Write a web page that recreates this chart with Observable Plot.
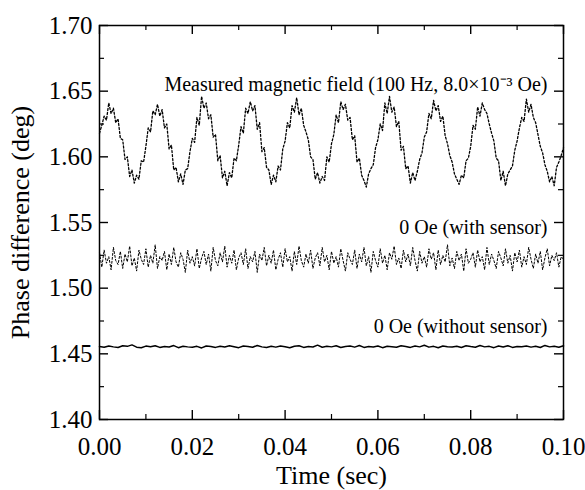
<!DOCTYPE html>
<html>
<head>
<meta charset="utf-8">
<script src="https://cdn.jsdelivr.net/npm/d3@7"></script>
<script src="https://cdn.jsdelivr.net/npm/@observablehq/plot@0.6"></script>
<style>
  html, body { margin: 0; padding: 0; background: white; }
</style>
</head>
<body>
<div id="chart"></div>
<script>
// ---- data ----
const xMajorTicks = [0.00, 0.02, 0.04, 0.06, 0.08, 0.10];
const xMinorTicks = [0.01, 0.03, 0.05, 0.07, 0.09];
const yMajorTicks = [1.40, 1.45, 1.50, 1.55, 1.60, 1.65, 1.70];
const yMinorTicks = [1.425, 1.475, 1.525, 1.575, 1.625, 1.675];

// sample spacing (sec) of each trace
const step1 = 0.0005;
const step2 = 0.0005;
const step3 = 0.001;

// Measured magnetic field (100 Hz, 8.0e-3 Oe)
const measured = [
  1.618,1.624,1.631,1.628,1.641,1.633,1.637,1.626,1.629,1.614,1.613,1.598,1.600,1.585,1.590,1.580,1.586,1.583,1.597,1.596,
  1.608,1.622,1.619,1.635,1.632,1.640,1.631,1.636,1.622,1.625,1.606,1.609,1.590,1.592,1.581,1.587,1.579,1.590,1.591,1.604,
  1.614,1.611,1.630,1.624,1.646,1.637,1.641,1.629,1.632,1.615,1.617,1.597,1.601,1.584,1.589,1.578,1.588,1.584,1.599,1.597,
  1.609,1.623,1.618,1.637,1.633,1.642,1.635,1.639,1.621,1.626,1.604,1.607,1.592,1.590,1.579,1.586,1.581,1.593,1.590,1.606,
  1.612,1.626,1.622,1.639,1.634,1.645,1.632,1.637,1.624,1.619,1.613,1.600,1.598,1.583,1.588,1.580,1.585,1.582,1.600,1.596,
  1.610,1.617,1.632,1.626,1.642,1.636,1.640,1.628,1.630,1.613,1.616,1.596,1.599,1.586,1.582,1.577,1.587,1.591,1.594,1.607,
  1.613,1.625,1.620,1.641,1.633,1.646,1.634,1.638,1.623,1.627,1.605,1.608,1.591,1.593,1.580,1.588,1.582,1.589,1.598,1.603,
  1.615,1.619,1.633,1.629,1.643,1.635,1.639,1.627,1.631,1.616,1.610,1.601,1.596,1.587,1.583,1.579,1.586,1.584,1.597,1.599,
  1.608,1.624,1.621,1.638,1.631,1.641,1.636,1.633,1.625,1.618,1.612,1.599,1.597,1.582,1.589,1.578,1.587,1.590,1.593,1.605,
  1.612,1.622,1.630,1.627,1.644,1.634,1.640,1.630,1.626,1.617,1.608,1.603,1.594,1.589,1.581,1.585,1.578,1.592,1.596,1.601,
  1.607
];

// 0 Oe (with sensor)
const withSensor = [
  1.527,1.516,1.529,1.519,1.524,1.514,1.531,1.521,1.518,1.528,1.515,1.526,1.520,1.532,1.517,1.523,1.513,1.529,1.522,1.518,
  1.530,1.516,1.525,1.519,1.533,1.515,1.524,1.521,1.528,1.514,1.526,1.518,1.531,1.520,1.516,1.527,1.522,1.512,1.529,1.519,
  1.524,1.517,1.530,1.515,1.523,1.528,1.518,1.526,1.513,1.531,1.521,1.517,1.527,1.520,1.532,1.516,1.525,1.519,1.529,1.514,
  1.523,1.527,1.518,1.530,1.515,1.524,1.520,1.528,1.512,1.526,1.521,1.531,1.517,1.525,1.519,1.529,1.514,1.522,1.527,1.516,
  1.530,1.520,1.524,1.513,1.528,1.518,1.532,1.521,1.516,1.526,1.519,1.529,1.515,1.523,1.527,1.517,1.531,1.520,1.525,1.514,
  1.528,1.519,1.524,1.516,1.530,1.521,1.513,1.527,1.522,1.518,1.529,1.515,1.526,1.520,1.531,1.517,1.524,1.512,1.528,1.521,
  1.516,1.530,1.519,1.525,1.514,1.527,1.522,1.532,1.518,1.523,1.515,1.529,1.520,1.526,1.517,1.531,1.521,1.513,1.528,1.519,
  1.524,1.516,1.530,1.522,1.527,1.514,1.529,1.518,1.525,1.520,1.533,1.517,1.523,1.515,1.528,1.521,1.526,1.513,1.530,1.519,
  1.522,1.527,1.516,1.529,1.520,1.524,1.514,1.531,1.518,1.526,1.521,1.515,1.528,1.523,1.517,1.530,1.519,1.525,1.513,1.527,
  1.520,1.529,1.516,1.524,1.518,1.531,1.522,1.515,1.526,1.519,1.528,1.514,1.523,1.530,1.517,1.525,1.521,1.527,1.516,1.524,
  1.522
];

// 0 Oe (without sensor)
const withoutSensor = [
  1.4555,1.4550,1.4560,1.4553,1.4548,1.4562,1.4557,1.4568,1.4551,1.4546,1.4559,1.4554,1.4561,1.4549,1.4556,1.4552,1.4563,1.4547,1.4558,1.4553,
  1.4550,1.4557,1.4545,1.4560,1.4555,1.4549,1.4558,1.4552,1.4561,1.4554,1.4547,1.4559,1.4556,1.4550,1.4564,1.4553,1.4548,1.4557,1.4551,1.4560,
  1.4554,1.4546,1.4558,1.4562,1.4549,1.4555,1.4552,1.4566,1.4550,1.4557,1.4553,1.4561,1.4548,1.4556,1.4559,1.4551,1.4563,1.4549,1.4555,1.4552,
  1.4560,1.4547,1.4558,1.4554,1.4550,1.4562,1.4556,1.4549,1.4559,1.4553,1.4565,1.4551,1.4557,1.4546,1.4560,1.4554,1.4552,1.4558,1.4548,1.4561,
  1.4555,1.4550,1.4563,1.4553,1.4557,1.4547,1.4559,1.4552,1.4562,1.4549,1.4556,1.4554,1.4560,1.4551,1.4558,1.4548,1.4564,1.4553,1.4557,1.4550,
  1.4561
];

const labels = [
  {text: "Measured magnetic field (100 Hz, 8.0\u00D710\u207B\u00B3 Oe)", x: 0.10, y: 1.650},
  {text: "0 Oe (with sensor)", x: 0.10, y: 1.541},
  {text: "0 Oe (without sensor)", x: 0.10, y: 1.4655}
];

// ---- chart ----
const W = 585, H = 490;
const mL = 99, mR = 22, mT = 25, mB = 71;
const frameW = W - mL - mR, frameH = H - mT - mB;
const majorLen = 9, minorLen = 5;

const toRows = (arr, step) => arr.map((v, i) => ({t: i * step, v}));
const s1 = toRows(measured, step1);
const s2 = toRows(withSensor, step2);
const s3 = toRows(withoutSensor, step3);

const chart = Plot.plot({
  width: W,
  height: H,
  marginLeft: mL,
  marginRight: mR,
  marginTop: mT,
  marginBottom: mB,
  x: {domain: [0, 0.1]},
  y: {domain: [1.40, 1.70]},
  style: {fontFamily: "'Liberation Serif', 'Times New Roman', serif", background: "white", color: "black"},
  marks: [
    // data traces
    Plot.line(s1, {x: "t", y: "v", stroke: "black", strokeWidth: 1.3, strokeDasharray: "2 2"}),
    Plot.line(s2, {x: "t", y: "v", stroke: "black", strokeWidth: 1.0, strokeDasharray: "2 2"}),
    Plot.line(s3, {x: "t", y: "v", stroke: "black", strokeWidth: 1.5}),
    // frame
    Plot.frame({stroke: "black", strokeWidth: 1.5}),
    // inward ticks, bottom & top
    Plot.tickX(xMajorTicks, {x: d => d, stroke: "black", strokeWidth: 1.4, insetTop: frameH - majorLen}),
    Plot.tickX(xMinorTicks, {x: d => d, stroke: "black", strokeWidth: 1.2, insetTop: frameH - minorLen}),
    Plot.tickX(xMajorTicks, {x: d => d, stroke: "black", strokeWidth: 1.4, insetBottom: frameH - majorLen}),
    Plot.tickX(xMinorTicks, {x: d => d, stroke: "black", strokeWidth: 1.2, insetBottom: frameH - minorLen}),
    // inward ticks, left & right
    Plot.tickY(yMajorTicks, {y: d => d, stroke: "black", strokeWidth: 1.4, insetRight: frameW - majorLen}),
    Plot.tickY(yMinorTicks, {y: d => d, stroke: "black", strokeWidth: 1.2, insetRight: frameW - minorLen}),
    Plot.tickY(yMajorTicks, {y: d => d, stroke: "black", strokeWidth: 1.4, insetLeft: frameW - majorLen}),
    Plot.tickY(yMinorTicks, {y: d => d, stroke: "black", strokeWidth: 1.2, insetLeft: frameW - minorLen}),
    // tick labels
    Plot.axisX({ticks: xMajorTicks, tickSize: 0, tickPadding: 18, tickFormat: d => d.toFixed(2), fontSize: 25, label: null}),
    Plot.axisY({ticks: yMajorTicks, tickSize: 0, tickPadding: 7, tickFormat: d => d.toFixed(2), fontSize: 25, label: null}),
    // axis titles
    Plot.text(["Time (sec)"], {frameAnchor: "bottom", dy: 64, fontSize: 26, lineAnchor: "bottom", textAnchor: "middle"}),
    Plot.text(["Phase difference (deg)"], {frameAnchor: "left", dx: -79, rotate: -90, fontSize: 26, textAnchor: "middle"}),
    // annotations
    Plot.text(labels, {x: "x", y: "y", text: "text", textAnchor: "end", lineAnchor: "bottom", dx: -16, fontSize: 20})
  ]
});
document.getElementById("chart").appendChild(chart);
</script>
</body>
</html>
